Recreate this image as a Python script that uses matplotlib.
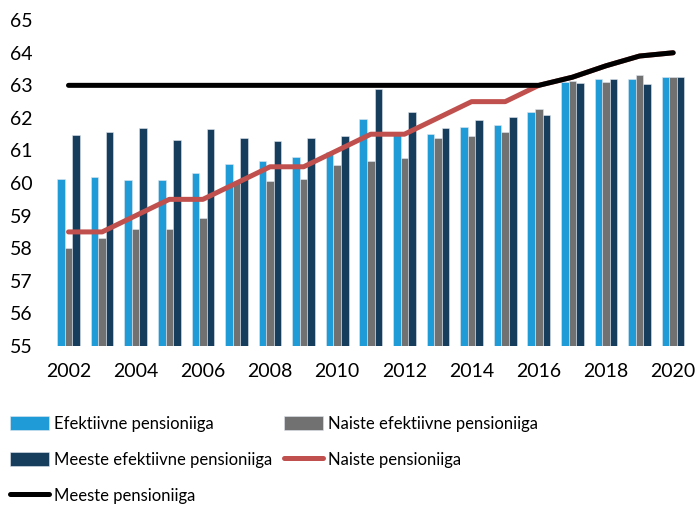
import matplotlib
matplotlib.use("Agg")
import matplotlib.pyplot as plt
import numpy as np

plt.rcParams["font.family"] = ["Lato", "DejaVu Sans"]

years = list(range(2002, 2021))
efektiivne = [60.14, 60.20, 60.08, 60.09, 60.30, 60.60, 60.67, 60.80, 60.94, 61.97,
              61.50, 61.50, 61.72, 61.78, 62.18, 63.10, 63.19, 63.21, 63.27]
naiste_ef = [58.00, 58.32, 58.59, 58.59, 58.93, 60.05, 60.05, 60.13, 60.55, 60.69,
             60.76, 61.37, 61.44, 61.58, 62.27, 63.13, 63.10, 63.32, 63.27]
meeste_ef = [61.49, 61.58, 61.68, 61.33, 61.67, 61.38, 61.29, 61.38, 61.44, 62.90,
             62.18, 61.69, 61.94, 62.04, 62.08, 63.06, 63.20, 63.03, 63.27]
naiste_pens = [58.5, 58.5, 59.0, 59.5, 59.5, 60.0, 60.5, 60.5, 61.0, 61.5,
               61.5, 62.0, 62.5, 62.5, 63.0, 63.25, 63.6, 63.9, 64.0]
meeste_pens = [63.0, 63.0, 63.0, 63.0, 63.0, 63.0, 63.0, 63.0, 63.0, 63.0,
               63.0, 63.0, 63.0, 63.0, 63.0, 63.25, 63.6, 63.9, 64.0]

fig = plt.figure(figsize=(6.96, 5.05), dpi=100)
ax = fig.add_axes([0.0743, 0.315, 0.917, 0.645])

x = np.arange(len(years))
w = 0.225
bar_kw = dict(edgecolor="#dfe6ee", linewidth=0.4, bottom=55)
b1 = ax.bar(x - w, np.array(efektiivne) - 55, w, color="#1f9bd7", label="Efektiivne pensioniiga", **bar_kw)
b2 = ax.bar(x, np.array(naiste_ef) - 55, w, color="#717171", label="Naiste efektiivne pensioniiga", **bar_kw)
b3 = ax.bar(x + w, np.array(meeste_ef) - 55, w, color="#163d5c", label="Meeste efektiivne pensioniiga", **bar_kw)
l1, = ax.plot(x, naiste_pens, color="#c0504d", lw=3.6, solid_capstyle="round", label="Naiste pensioniiga")
l2, = ax.plot(x, meeste_pens, color="black", lw=3.6, solid_capstyle="round", label="Meeste pensioniiga")

ax.set_xlim(-0.5, len(years) - 0.5)
ax.set_ylim(55, 65)
ax.set_yticks(range(55, 66))
ax.set_xticks(x[::2])
ax.set_xticklabels([str(y) for y in years[::2]])
ax.tick_params(length=0, labelsize=14, colors="black")
ax.tick_params(axis="x", pad=12)
ax.tick_params(axis="y", pad=14)
for s in ax.spines.values():
    s.set_visible(False)

fig.legend([b1, b3, l2, b2, l1],
           ["Efektiivne pensioniiga", "Meeste efektiivne pensioniiga", "Meeste pensioniiga",
            "Naiste efektiivne pensioniiga", "Naiste pensioniiga"],
           ncol=2, loc="upper left", bbox_to_anchor=(0.005, 0.19), frameon=False,
           fontsize=12, handlelength=2.35, handleheight=0.9, handletextpad=0.3,
           columnspacing=0.66, labelspacing=1.2, borderaxespad=0)

fig.savefig("out.png", dpi=100)
